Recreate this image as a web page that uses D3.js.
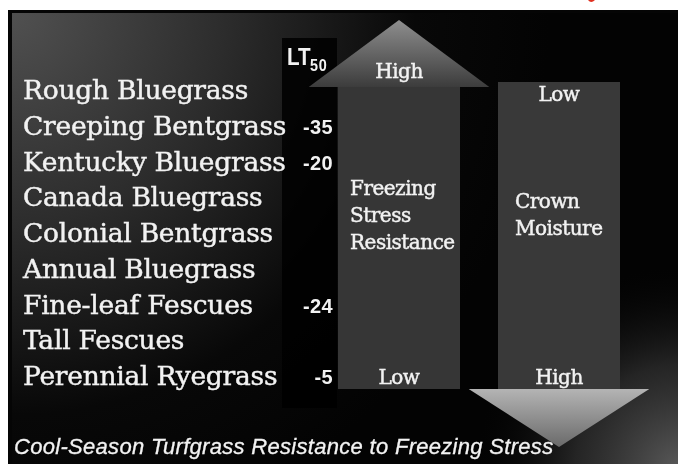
<!DOCTYPE html>
<html><head><meta charset="utf-8">
<script src="https://cdn.jsdelivr.net/npm/d3@7"></script>
<style>html,body{margin:0;padding:0;background:#fff;}svg{display:block;}</style>
</head><body>
<script>
// ---- data ----
const categories = ["Rough Bluegrass","Creeping Bentgrass","Kentucky Bluegrass","Canada Bluegrass","Colonial Bentgrass","Annual Bluegrass","Fine-leaf Fescues","Tall Fescues","Perennial Ryegrass"];
const lt50 = [null,-35,-20,null,null,null,-24,null,-5];
const columns = ["Freezing Stress Resistance","Crown Moisture"];
const columnLabels = [["Freezing","Stress","Resistance"],["Crown","Moisture"]];
const columnEnds = [["High","Low"],["Low","High"]]; // [top, bottom]
const arrowDir = ["up","down"];
const ltTitle = "LT";
const ltSub = "50";
const caption = "Cool-Season Turfgrass Resistance to Freezing Stress";

const W = 678, H = 464;
const svg = d3.select("body").append("svg").attr("width", W).attr("height", H);
const defs = svg.append("defs");

// gradients
const bgTL = defs.append("radialGradient").attr("id","bgTL").attr("gradientUnits","userSpaceOnUse")
  .attr("cx",10).attr("cy",10).attr("r",540);
bgTL.append("stop").attr("offset","0").attr("stop-color","#515151");
bgTL.append("stop").attr("offset","0.4").attr("stop-color","#2c2c2c");
bgTL.append("stop").attr("offset","0.75").attr("stop-color","#080808");
bgTL.append("stop").attr("offset","1").attr("stop-color","#030303");
const bgBR = defs.append("radialGradient").attr("id","bgBR").attr("gradientUnits","userSpaceOnUse")
  .attr("cx",680).attr("cy",470).attr("r",210);
bgBR.append("stop").attr("offset","0").attr("stop-color","#5a5a5a").attr("stop-opacity",1);
bgBR.append("stop").attr("offset","0.5").attr("stop-color","#333").attr("stop-opacity",0.7);
bgBR.append("stop").attr("offset","1").attr("stop-color","#000").attr("stop-opacity",0);
const gUp = defs.append("linearGradient").attr("id","gUp").attr("x1",0).attr("y1",0).attr("x2",0).attr("y2",1);
gUp.append("stop").attr("offset","0").attr("stop-color","#8e8e8e");
gUp.append("stop").attr("offset","1").attr("stop-color","#3c3c3c");
const gDn = defs.append("linearGradient").attr("id","gDn").attr("x1",0).attr("y1",0).attr("x2",0).attr("y2",1);
gDn.append("stop").attr("offset","0").attr("stop-color","#b4b4b4");
gDn.append("stop").attr("offset","1").attr("stop-color","#6a6a6a");
const soft = defs.append("filter").attr("id","soft");
soft.append("feGaussianBlur").attr("stdDeviation",0.55);

// frame
const frame = {x0: 8, y0: 10};
svg.append("rect").attr("x",frame.x0).attr("y",frame.y0).attr("width",W-frame.x0).attr("height",H-frame.y0).attr("fill","#050505");
svg.append("rect").attr("x",frame.x0+4).attr("y",frame.y0+3).attr("width",W-frame.x0-4).attr("height",H-frame.y0-3).attr("fill","url(#bgTL)");
svg.append("rect").attr("x",frame.x0+4).attr("y",frame.y0+3).attr("width",W-frame.x0-4).attr("height",H-frame.y0-3).attr("fill","url(#bgBR)");
// red mark top right
svg.append("path").attr("d","M588,0 Q591,4 595,0 Z").attr("fill","#e03020");

// scales
const y = d3.scalePoint().domain(categories).range([99, 385]);
const xCol = d3.scaleBand().domain(columns).range([338, 620]).paddingInner(0.2375);
const yCol = d3.scaleLinear().domain([0,1]).range([85, 389]); // column top/bottom

// LT50 dark column
svg.append("rect").attr("x",282).attr("y",38).attr("width",55).attr("height",370).attr("fill","#000").attr("opacity",0.85);

// columns
const g = svg.append("g");
columns.forEach((c,i)=>{
  const x0 = xCol(c), bw = xCol.bandwidth(), cx = x0 + bw/2;
  const top = i===0 ? yCol(0)+2 : yCol(0)-3;
  g.append("rect").attr("x",x0).attr("y",top).attr("width",bw).attr("height",yCol(1)-top)
    .attr("fill", i===0 ? "#363636" : "#393939");
  const half = bw*0.74;
  if (arrowDir[i]==="up") {
    const base = yCol(0)+2, apex = 20;
    g.append("path").attr("d",`M${cx-half},${base}L${cx},${apex}L${cx+half},${base}Z`).attr("fill","url(#gUp)");
  } else {
    const base = yCol(1), apex = 447;
    g.append("path").attr("d",`M${cx-half},${base}L${cx},${apex}L${cx+half},${base}Z`).attr("fill","url(#gDn)");
  }
});

const serif = "'DejaVu Serif', 'Liberation Serif', serif";
const sans = "'Liberation Sans', Arial, sans-serif";
const txt = svg.append("g").attr("filter","url(#soft)").attr("fill","#f2f2f2")
  .attr("stroke","#f2f2f2").attr("stroke-width",0.45);

// category labels
txt.selectAll("text.cat").data(categories).join("text").attr("class","cat")
  .attr("x",23).attr("y",d=>y(d)).attr("font-family",serif).attr("font-size",26.5)
  .attr("letter-spacing",-0.25).text(d=>d);

// LT50 values
txt.selectAll("text.lt").data(categories.map((c,i)=>({c,v:lt50[i]})).filter(d=>d.v!==null)).join("text").attr("class","lt")
  .attr("x",333).attr("y",d=>y(d.c)-1).attr("text-anchor","end")
  .attr("font-family",sans).attr("font-weight","bold").attr("font-size",20)
  .attr("letter-spacing",0.4).attr("stroke-width",0).text(d=>d.v);

// LT50 header
txt.append("text").attr("transform","translate(287,65) scale(0.86,1)").attr("font-family",sans)
  .attr("font-weight","bold").attr("font-size",24).attr("stroke-width",0).text(ltTitle);
txt.append("text").attr("transform","translate(310,71) scale(0.9,1)").attr("font-family",sans)
  .attr("font-weight","bold").attr("font-size",16).attr("letter-spacing",0.8).attr("stroke-width",0).text(ltSub);

// column texts
columns.forEach((c,i)=>{
  const x0 = xCol(c), cx = x0 + xCol.bandwidth()/2;
  txt.append("text").attr("x",cx).attr("y", i===0 ? 78 : 101).attr("text-anchor","middle")
    .attr("font-family",serif).attr("font-size",20).attr("letter-spacing",-0.5).text(columnEnds[i][0]);
  txt.append("text").attr("x",cx).attr("y",384).attr("text-anchor","middle")
    .attr("font-family",serif).attr("font-size",20).attr("letter-spacing",-0.5).text(columnEnds[i][1]);
  const lx = i===0 ? x0+12 : x0+17;
  const ly0 = i===0 ? 195 : 208;
  txt.selectAll(null).data(columnLabels[i]).join("text")
    .attr("x",lx).attr("y",(d,j)=>ly0 + j*27).attr("font-family",serif).attr("font-size",20)
    .attr("letter-spacing",-0.5).text(d=>d);
});

// caption
txt.append("text").attr("x",14).attr("y",454).attr("font-family",sans)
  .attr("font-style","italic").attr("font-size",22).attr("letter-spacing",0.3).attr("stroke-width",0.3).text(caption);
</script>
</body></html>
